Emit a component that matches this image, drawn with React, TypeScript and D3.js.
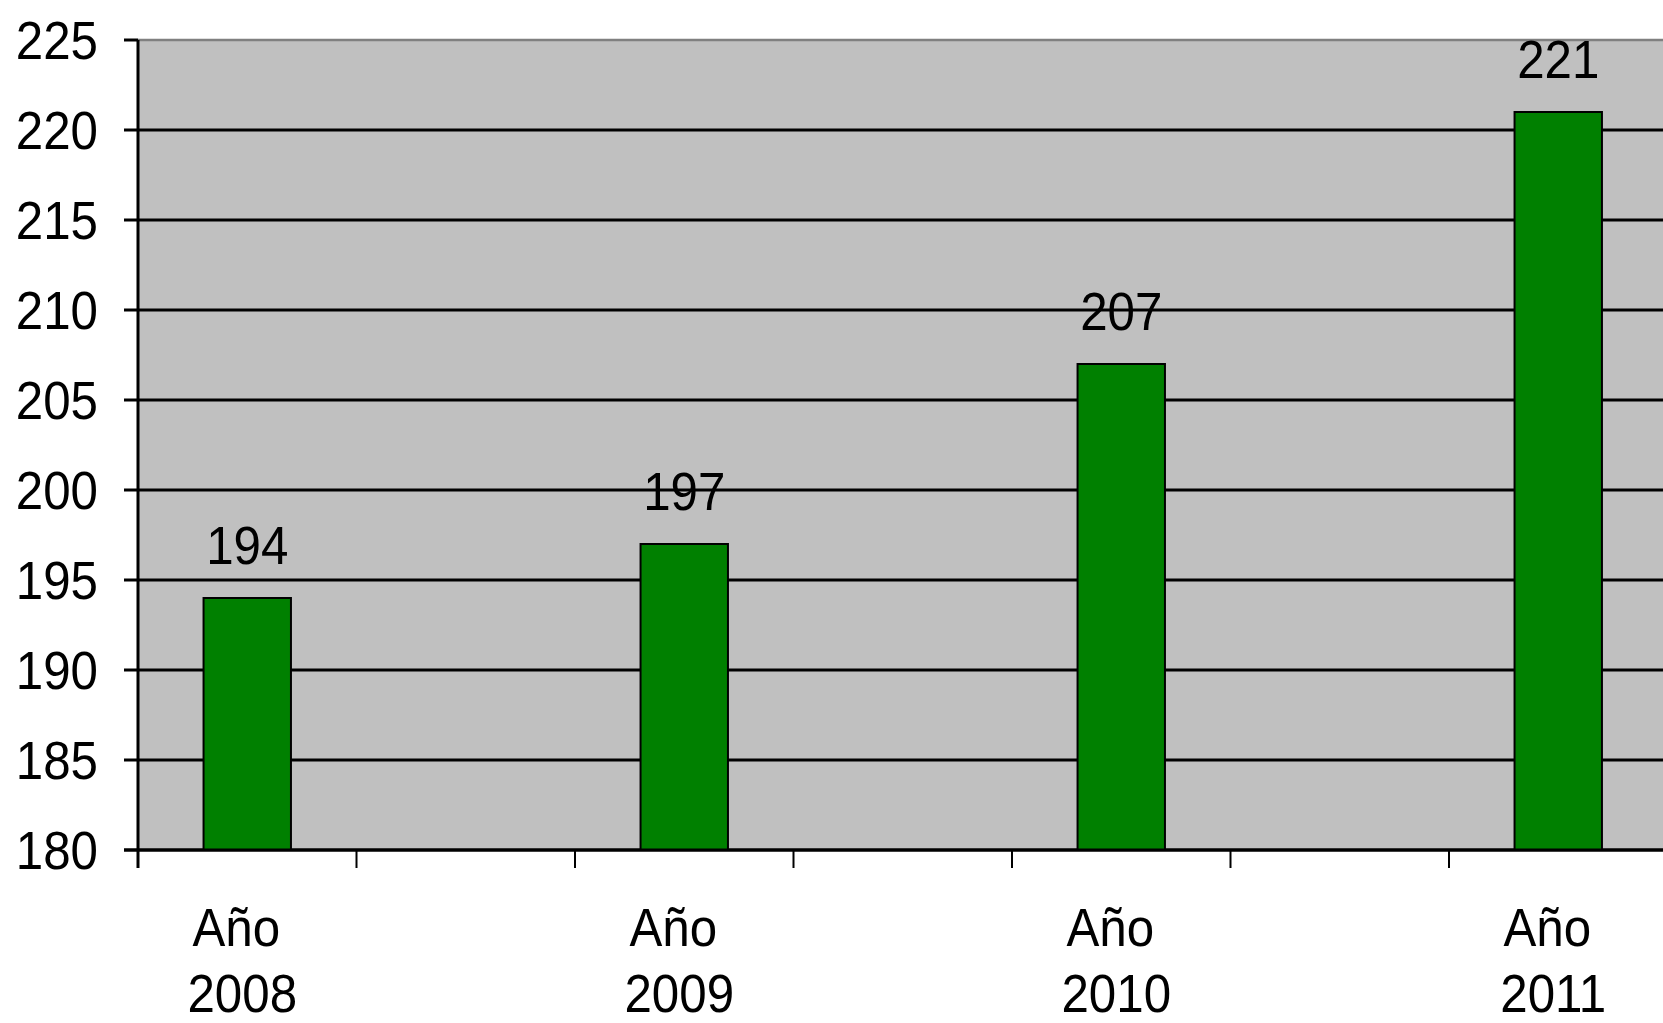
import * as d3 from 'd3';

// datos del gráfico
const years = ['2008', '2009', '2010', '2011'];
const values = [194, 197, 207, 221];
const slots = ['valor', 'vacio'];
const yDomain: [number, number] = [180, 225];

const W = 1663;
const H = 1023;
const left = 138;
const top = 40;
const bottom = 850;
const bandW = 437;

const FONT = 'Arial, "Liberation Sans", sans-serif';
const FS = 53;
const SX = 0.93;

const Label = ({ x, y, text, anchor = 'middle' }: { x: number; y: number; text: string; anchor?: string }) => (
  <text
    transform={`translate(${x},${y}) scale(${SX},1)`}
    textAnchor={anchor}
    fontFamily={FONT}
    fontSize={FS}
    fill="#000"
  >
    {text}
  </text>
);

const App = (): JSX.Element => {
  const x = d3.scaleBand(years, [left, left + bandW * years.length]);
  const inner = d3.scaleBand(slots, [0, x.bandwidth()]);
  const y = d3.scaleLinear(yDomain, [bottom, top]);
  const yTicks = y.ticks(10);
  const barW = inner.bandwidth() * 0.4;

  const barCenter = (yr: string) => (x(yr) ?? 0) + (inner('valor') ?? 0) + inner.bandwidth() / 2;

  const xTicks: number[] = [];
  years.forEach((yr) => slots.forEach((s) => xTicks.push((x(yr) ?? 0) + (inner(s) ?? 0))));

  return (
    <svg width={W} height={H} style={{ position: 'absolute', left: 0, top: 0 }}>
      <rect x={0} y={0} width={W} height={H} fill="#fff" />
      {/* fondo del área de trazado */}
      <rect x={left} y={top} width={W - left} height={bottom - top} fill="#c0c0c0" />
      <line x1={left} x2={W} y1={top} y2={top} stroke="#808080" strokeWidth={2.5} />

      {/* líneas de división */}
      {yTicks.map((t) => (
        <line key={t} x1={left - 14} x2={W} y1={y(t)} y2={y(t)} stroke="#000" strokeWidth={t === 225 ? 0 : 3} />
      ))}
      <line x1={left - 14} x2={left} y1={top} y2={top} stroke="#000" strokeWidth={3} />

      {/* barras */}
      {years.map((yr, i) => (
        <rect
          key={yr}
          x={barCenter(yr) - barW / 2}
          y={y(values[i])}
          width={barW}
          height={bottom - y(values[i])}
          fill="#008000"
          stroke="#000"
          strokeWidth={2}
        />
      ))}

      {/* ejes */}
      <line x1={left} x2={left} y1={top} y2={bottom + 18} stroke="#000" strokeWidth={3} />
      <line x1={left - 14} x2={W} y1={bottom} y2={bottom} stroke="#000" strokeWidth={3} />
      {xTicks.map((t, i) => (
        <line key={i} x1={t} x2={t} y1={bottom} y2={bottom + 18} stroke="#000" strokeWidth={2} />
      ))}

      {/* etiquetas del eje Y */}
      {yTicks.map((t) => (
        <Label key={t} x={98} y={y(t) + 19} text={String(t)} anchor="end" />
      ))}

      {/* etiquetas de datos */}
      {years.map((yr, i) => (
        <Label key={yr} x={barCenter(yr)} y={y(values[i]) - 34} text={String(values[i])} />
      ))}

      {/* etiquetas de categoría */}
      {years.map((yr) => (
        <g key={yr}>
          <Label x={barCenter(yr) - 11} y={946} text="Año" />
          <Label x={barCenter(yr) - 5} y={1012} text={yr} />
        </g>
      ))}
    </svg>
  );
};

export default App;
